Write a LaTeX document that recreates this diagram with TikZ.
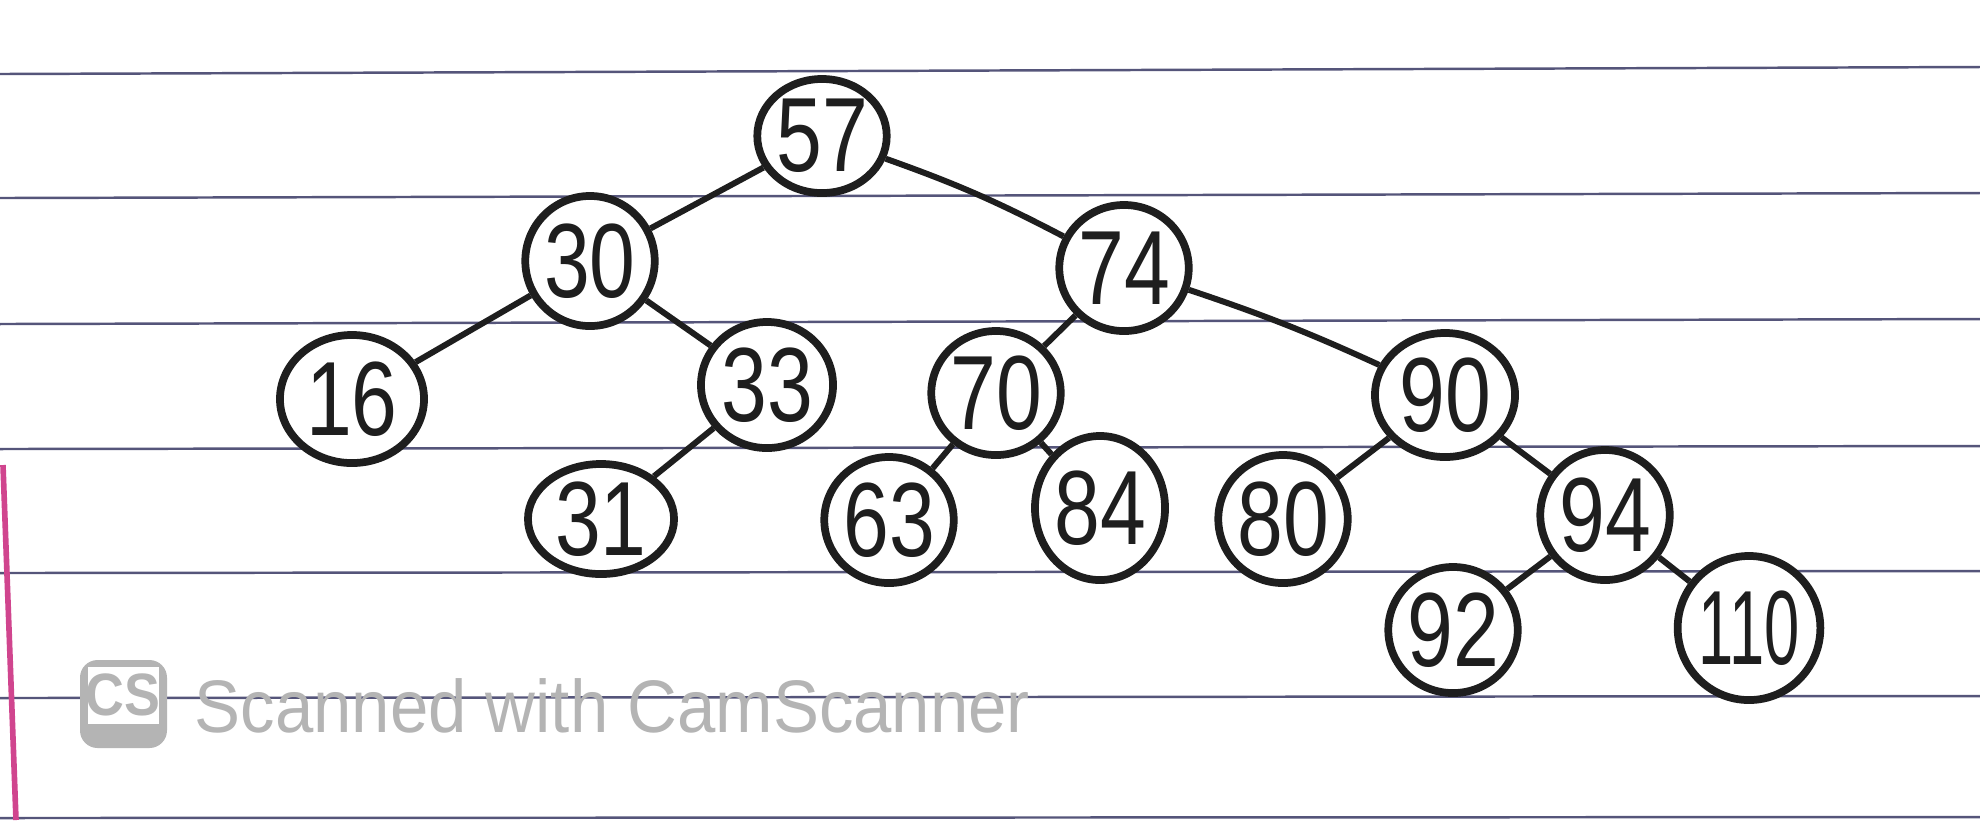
\documentclass[tikz,border=0pt]{standalone}
\usepackage{fontspec}
\usepackage{graphicx}
\usetikzlibrary{shapes.geometric}
\newfontfamily\handfont{Liberation Sans}
\newfontfamily\wmfont{Liberation Sans}
\definecolor{ink}{HTML}{1E1E1E}
\definecolor{rulecol}{HTML}{55557A}
\definecolor{margincol}{HTML}{D0458E}
\definecolor{wmcol}{HTML}{B4B4B4}
\newcommand\sq[1]{\scalebox{0.78}[1]{#1}}
\newcommand\sqn[1]{\scalebox{0.6}[1]{#1}}
\begin{document}
\begin{tikzpicture}[x=0.01cm,y=-0.01cm,
  tnode/.style={ellipse, draw=ink, line width=2.2pt, fill=white, inner sep=0pt,
    text=ink, font=\handfont\fontsize{30}{30}\selectfont},
  tedge/.style={draw=ink, line width=1.7pt},
  paperline/.style={draw=rulecol, line width=0.7pt}]
\useasboundingbox (0,0) rectangle (1980,820);
\fill[white] (0,0) rectangle (1980,820);
% paper rules
\draw[paperline] (0,74) -- (1980,67);
\draw[paperline] (0,198) -- (1980,193);
\draw[paperline] (0,324) -- (1980,319);
\draw[paperline] (0,449) -- (1980,446);
\draw[paperline] (0,573) -- (1980,571);
\draw[paperline] (0,698) -- (1980,696);
\draw[paperline] (0,818) -- (1980,817);
% margin
\draw[margincol, line width=1.6pt] (3,465) -- (16,820);
% watermark
\fill[wmcol, rounded corners=5pt] (80,660) rectangle (167,748);
\fill[white] (88,667) rectangle (159,724);
\node[text=wmcol, font=\wmfont\bfseries\fontsize{17}{17}\selectfont, inner sep=0pt] (cslogo) at (123,695) {\scalebox{0.9}[1]{CS}};
\node[anchor=west, text=wmcol, font=\wmfont\fontsize{19.6}{20}\selectfont, inner sep=0pt, yscale=1.08] (wmtext) at (194,706) {Scanned with CamScanner};
% tree nodes
\node[tnode, minimum width=1.28cm, minimum height=1.14cm] (n57) at (822,136) {\sq{57}};
\node[tnode, minimum width=1.26cm, minimum height=1.30cm] (n30) at (590,261) {\sq{30}};
\node[tnode, minimum width=1.18cm, minimum height=1.26cm] (n74) at (1124,268) {\sq{74}};
\node[tnode, minimum width=1.44cm, minimum height=1.28cm] (n16) at (352,399) {\sq{16}};
\node[tnode, minimum width=1.32cm, minimum height=1.26cm] (n33) at (767,385) {\sq{33}};
\node[tnode, minimum width=1.12cm, minimum height=1.24cm] (n70) at (996,393) {\sq{70}};
\node[tnode, minimum width=1.40cm, minimum height=1.24cm] (n90) at (1445,395) {\sq{90}};
\node[tnode, minimum width=1.46cm, minimum height=1.10cm] (n31) at (601,519) {\sq{31}};
\node[tnode, minimum width=1.04cm, minimum height=1.26cm] (n63) at (889,520) {\sq{63}};
\node[tnode, minimum width=1.30cm, minimum height=1.44cm] (n84) at (1100,508) {\sq{84}};
\node[tnode, minimum width=1.28cm, minimum height=1.28cm] (n80) at (1283,519) {\sq{80}};
\node[tnode, minimum width=1.24cm, minimum height=1.30cm] (n94) at (1605,515) {\sq{94}};
\node[tnode, minimum width=1.26cm, minimum height=1.26cm] (n92) at (1453,630) {\sq{92}};
\node[tnode, minimum width=1.38cm, minimum height=1.44cm] (n110) at (1749,628) {\sqn{110}};
% connectors
\draw[tedge] (n57) to[bend left=4] (n74);
\draw[tedge] (n57) -- (n30);
\draw[tedge] (n30) -- (n16);
\draw[tedge] (n30) -- (n33);
\draw[tedge] (n33) -- (n31);
\draw[tedge] (n74) -- (n70);
\draw[tedge] (n74) to[bend left=3] (n90);
\draw[tedge] (n70) -- (n63);
\draw[tedge] (n70) -- (n84);
\draw[tedge] (n90) -- (n80);
\draw[tedge] (n90) -- (n94);
\draw[tedge] (n94) -- (n92);
\draw[tedge] (n94) -- (n110);
\end{tikzpicture}
\end{document}
